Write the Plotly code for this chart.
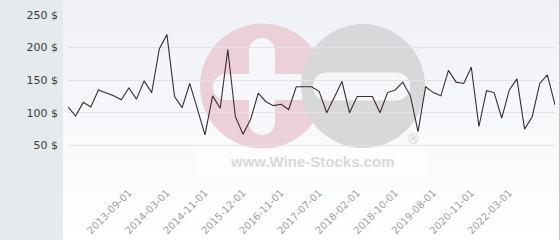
import plotly.graph_objects as go

# ---- data ----
prices = [109, 95, 116, 109, 135, 131, 126, 120, 138, 121, 149, 131, 198, 220, 125,
          108, 145, 106, 66, 126, 107, 197, 94, 67, 90, 130, 117, 111, 113, 105,
          140, 140, 140, 133, 100, 124, 148, 100, 125, 125, 125, 100, 131, 135, 147,
          126, 71, 140, 131, 126, 165, 147, 145, 170, 79, 134, 131, 92, 135, 152,
          75, 94, 145, 158, 112]
tick_index = [8, 13, 18, 23, 28, 33, 38, 43, 48, 53, 58]
tick_labels = ["2013-09-01", "2014-03-01", "2014-11-01", "2015-12-01", "2016-11-01",
               "2017-07-01", "2018-02-01", "2018-10-01", "2019-08-01", "2020-11-01",
               "2022-03-01"]
y_ticks = [0, 50, 100, 150, 200, 250]
y_tick_text = ["", "50 $", "100 $", "150 $", "200 $", "250 $"]

W, H = 560, 240
L, R, T, B = 68, 5, 15, 62
PW, PH = W - L - R, H - T - B


def px(x):
    return (x - L) / PW


def py(y):
    return (H - B - y) / PH


shapes = []
# left panel
shapes.append(dict(type="rect", xref="paper", yref="paper", x0=px(0), x1=px(63),
                   y0=py(H), y1=py(0), fillcolor="#e6eaed", line_width=0, layer="below"))
# gradient background
n = 24
for i in range(n):
    t = i / (n - 1)
    c0 = (239, 241, 246)
    c = tuple(round(c0[k] + (255 - c0[k]) * t) for k in range(3))
    shapes.append(dict(type="rect", xref="paper", yref="paper", x0=px(63), x1=px(559),
                       y0=py((i + 1) * H / n), y1=py(i * H / n),
                       fillcolor="rgb(%d,%d,%d)" % c, line_width=0, layer="below"))
# right border
shapes.append(dict(type="line", xref="paper", yref="paper", x0=px(559.5), x1=px(559.5),
                   y0=py(H), y1=py(0), line=dict(color="#c4c4c4", width=1), layer="below"))


def circle(cx, cy, r, color):
    return dict(type="circle", xref="paper", yref="paper", x0=px(cx - r), x1=px(cx + r),
                y0=py(cy + r), y1=py(cy - r), fillcolor=color, line_width=0, layer="below")


def rect(x0, y0, x1, y1, color, opacity=1):
    return dict(type="rect", xref="paper", yref="paper", x0=px(x0), x1=px(x1),
                y0=py(y1), y1=py(y0), fillcolor=color, line_width=0, layer="below",
                opacity=opacity)


def capsule_h(x0, x1, cy, h, color):
    r = h / 2
    return [rect(x0 + r, cy - r, x1 - r, cy + r, color),
            circle(x0 + r, cy, r, color), circle(x1 - r, cy, r, color)]


def capsule_v(cx, y0, y1, w, color):
    r = w / 2
    return [rect(cx - r, y0 + r, cx + r, y1 - r, color),
            circle(cx, y0 + r, r, color), circle(cx, y1 - r, r, color)]


pink = "#ebd0d7"
grey = "#d8d8da"
wm_white = "#f6f7fa"
# watermark logo
shapes.append(circle(262.5, 86, 62.5, pink))
shapes += capsule_h(213, 312, 87, 26, wm_white)
shapes += capsule_v(262, 38, 135, 26, wm_white)
shapes.append(circle(363, 86, 62, grey))
shapes += capsule_h(313, 410, 86.5, 28, wm_white)
# text box
shapes.append(rect(197, 148, 425, 176, "#ffffff", 0.6))

fig = go.Figure()
fig.add_trace(go.Scatter(x=list(range(len(prices))), y=prices, mode="lines",
                         line=dict(color="#3b2a34", width=1.1), hoverinfo="skip"))

annotations = [
    dict(text="<b>www.Wine-Stocks.com</b>", xref="paper", yref="paper",
         x=px(312), y=py(161), showarrow=False, xanchor="center", yanchor="middle",
         font=dict(family="Liberation Sans", size=15, color="#d9d9d9")),
    dict(text="®", xref="paper", yref="paper", x=px(413), y=py(139), showarrow=False,
         xanchor="center", yanchor="middle",
         font=dict(family="Liberation Sans", size=14, color="#cfcfcf")),
]

fig.update_layout(
    width=W, height=H,
    margin=dict(l=L, r=R, t=T, b=B, pad=0),
    paper_bgcolor="#ffffff", plot_bgcolor="rgba(0,0,0,0)",
    showlegend=False,
    shapes=shapes,
    annotations=annotations,
    xaxis=dict(range=[0, len(prices) - 1], tickmode="array", tickvals=tick_index,
               ticktext=tick_labels, tickangle=-45, showgrid=False, zeroline=False,
               showline=False, ticks="", ticklabelstandoff=6,
               tickfont=dict(family="DejaVu Sans", size=10, color="#a0a0a0"),
               fixedrange=True),
    yaxis=dict(range=[0, 250], tickmode="array", tickvals=y_ticks, ticktext=y_tick_text,
               showgrid=True, gridcolor="#e2e2e4", gridwidth=1, zeroline=False,
               showline=False, ticks="", ticklabelstandoff=9,
               tickfont=dict(family="DejaVu Sans", size=11, color="#3a3a3a"),
               fixedrange=True),
)

fig.write_html("out.html", config={"displayModeBar": False})
